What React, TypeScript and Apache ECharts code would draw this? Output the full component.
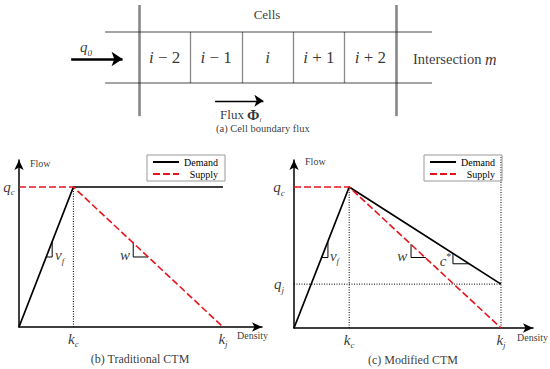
import React, { useEffect, useRef } from 'react';
import * as echarts from 'echarts';

// ---------- data ----------
const cellLabels = ['i − 2', 'i − 1', 'i', 'i + 1', 'i + 2'];
const KC = 40;    // critical density
const KJ = 150;   // jam density
const QC = 1800;  // capacity flow
const QJ = 560;   // flow at jam density (modified CTM)

const demandTraditional = [[0, 0], [KC, QC], [KJ, QC]];
const supplyTraditional = [[0, QC], [KC, QC], [KJ, 0]];
const demandModified = [[0, 0], [KC, QC], [KJ, QJ]];
const supplyModified = [[0, QC], [KC, QC], [KJ, 0]];

const vfTriangleB = [[20, 900], [24.4, 900], [24.4, 1100]];
const wTriangleB = [[84, 1080], [84, 900], [95, 900]];
const vfTriangleC = [[20.3, 900], [24.6, 900], [24.6, 1100]];
const wTriangleC = [[84.8, 1070], [84.8, 900], [95.6, 900]];
const cTriangleC = [[115.2, 952], [115.2, 820], [126.8, 820]];

const legendNames = ['Demand', 'Supply'];

// ---------- styles ----------
const SERIF = 'Liberation Serif';
const RED = '#e8141c';

const rich: any = {
  it: { fontFamily: SERIF, fontStyle: 'italic', fontSize: 15, lineHeight: 20, color: '#000' },
  sub: { fontFamily: SERIF, fontStyle: 'italic', fontSize: 9, lineHeight: 9, verticalAlign: 'bottom', color: '#000' },
  sup: { fontFamily: SERIF, fontSize: 10, lineHeight: 10, verticalAlign: 'top', color: '#000' },
  sm: { fontFamily: SERIF, fontSize: 10, color: '#000' },
  cap: { fontFamily: SERIF, fontSize: 12, color: '#000' },
  capA: { fontFamily: SERIF, fontSize: 10.5, color: '#000' },
  cellIt: { fontFamily: SERIF, fontStyle: 'italic', fontSize: 17, lineHeight: 20, color: '#000' },
  cellRm: { fontFamily: SERIF, fontSize: 17, lineHeight: 20, color: '#000' },
  mid: { fontFamily: SERIF, fontSize: 13, lineHeight: 18, color: '#000' },
  big: { fontFamily: SERIF, fontSize: 14.5, lineHeight: 18, color: '#000' },
  bigIt: { fontFamily: SERIF, fontStyle: 'italic', fontSize: 16, lineHeight: 18, color: '#000' },
  phi: { fontFamily: SERIF, fontSize: 15, fontWeight: 'bold', lineHeight: 16, color: '#000' },
  phiSub: { fontFamily: SERIF, fontStyle: 'italic', fontSize: 7, lineHeight: 7, verticalAlign: 'bottom', color: '#000' },
};

function lab(x: number, y: number, text: string, align: string = 'center') {
  return {
    value: [x, y],
    label: { show: true, position: 'inside', formatter: text, align, verticalAlign: 'middle', rich },
  };
}

function cellText(s: string) {
  const rest = s.slice(1);
  return rest ? `{cellIt|i}{cellRm|${rest}}` : '{cellIt|i}';
}

function textSeries(grid: number, data: any[]) {
  return {
    type: 'scatter',
    xAxisIndex: grid,
    yAxisIndex: grid,
    symbolSize: 0,
    clip: false,
    silent: true,
    itemStyle: { color: 'transparent' },
    data,
    z: 10,
  };
}

function lineSeries(grid: number, name: string, data: number[][], lineStyle: any, z = 3) {
  return {
    type: 'line',
    name,
    xAxisIndex: grid,
    yAxisIndex: grid,
    data,
    symbol: 'none',
    showSymbol: false,
    clip: false,
    silent: true,
    lineStyle,
    itemStyle: { color: lineStyle.color },
    z,
  };
}

const axisCommon = (grid: number, max: number) => ({
  type: 'value',
  gridIndex: grid,
  min: 0,
  max,
  axisLine: {
    show: true,
    onZero: false,
    symbol: ['none', 'arrow'],
    symbolSize: [7, 10],
    lineStyle: { color: '#000', width: 1.5 },
  },
  axisTick: { show: false },
  axisLabel: { show: false },
  splitLine: { show: false },
});

const hiddenAxis = (grid: number, max: number) => ({
  type: 'value', gridIndex: grid, min: 0, max, show: false,
});

function legendCfg(left: number) {
  return {
    data: legendNames,
    orient: 'vertical',
    left,
    top: 155,
    itemWidth: 26,
    itemHeight: 9,
    itemGap: 2,
    padding: [2, 7, 2, 5],
    borderColor: '#999',
    borderWidth: 1,
    selectedMode: false,
    itemStyle: { opacity: 0, borderWidth: 0 },
    formatter: (n: string) => `{t|${n}}`,
    textStyle: {
      fontFamily: SERIF,
      fontSize: 10,
      color: '#000',
      rich: { t: { fontFamily: SERIF, fontSize: 10, width: 34, align: 'right', color: '#000' } },
    },
  };
}

function buildOption() {
  const nCells = cellLabels.length;
  const dividers = cellLabels.slice(1).map((_, k) => ({
    coords: [[k + 1, 0], [k + 1, 1]],
    lineStyle: { width: 1.3, color: '#111' },
  }));
  const rails = [0, 1].map((y) => ({
    coords: [[-0.66, y], [nCells + 0.7, y]],
    lineStyle: { width: 1.6, color: '#111' },
  }));
  const outer = [0, nCells].map((x) => ({
    coords: [[x, -0.65], [x, 1.53]],
    lineStyle: { width: 2.6, color: '#111' },
  }));

  const solid = { color: '#000', width: 1.7, type: 'solid' };
  const dashed = { color: RED, width: 1.6, type: [7, 3] };
  const dotted = { color: '#000', width: 1, type: [1, 1.5] };
  const thin = { color: '#000', width: 1, type: 'solid' };

  return {
    animation: false,
    backgroundColor: '#fff',
    textStyle: { fontFamily: SERIF },
    grid: [
      { left: 139, top: 32, width: 257, height: 51 },
      { left: 19, top: 160, width: 243, height: 167 },
      { left: 294, top: 160, width: 239, height: 168 },
    ],
    xAxis: [hiddenAxis(0, nCells), axisCommon(1, 178.7), axisCommon(2, 173.2)],
    yAxis: [hiddenAxis(0, 1), axisCommon(1, 2147), axisCommon(2, 2145)],
    legend: [legendCfg(147), legendCfg(424)],
    series: [
      // ----- (a) cell diagram -----
      {
        type: 'lines',
        coordinateSystem: 'cartesian2d',
        xAxisIndex: 0,
        yAxisIndex: 0,
        polyline: false,
        silent: true,
        clip: false,
        data: [...rails, ...dividers, ...outer],
      },
      {
        type: 'lines',
        coordinateSystem: 'cartesian2d',
        xAxisIndex: 0,
        yAxisIndex: 0,
        silent: true,
        clip: false,
        symbol: ['none', 'arrow'],
        symbolSize: [9, 11],
        lineStyle: { width: 2.6, color: '#000', opacity: 1 },
        data: [{ coords: [[-1.32, 0.47], [-0.32, 0.47]] }],
      },
      {
        type: 'lines',
        coordinateSystem: 'cartesian2d',
        xAxisIndex: 0,
        yAxisIndex: 0,
        silent: true,
        clip: false,
        symbol: ['none', 'arrow'],
        symbolSize: [7, 9],
        lineStyle: { width: 1.3, color: '#000', opacity: 1 },
        data: [{ coords: [[1.48, -0.35], [2.42, -0.35]] }],
      },
      textSeries(0, [
        ...cellLabels.map((c, k) => lab(k + 0.5, 0.5, cellText(c))),
        lab(2.49, 1.35, '{mid|Cells}'),
        lab(-1.03, 0.7, '{it|q}{sub|0}'),
        lab(5.33, 0.47, '{big|Intersection }{bigIt|m}', 'left'),
        lab(1.98, -0.62, '{mid|Flux }{phi|Φ}{phiSub|i}'),
        lab(2.41, -0.9, '{capA|(a) Cell boundary flux}'),
      ]),

      // ----- (b) traditional CTM -----
      lineSeries(1, 'Demand', demandTraditional, solid, 5),
      lineSeries(1, 'Supply', supplyTraditional, dashed, 6),
      lineSeries(1, 'kc guide b', [[KC, 0], [KC, QC]], dotted),
      lineSeries(1, 'vf slope b', vfTriangleB, thin),
      lineSeries(1, 'w slope b', wTriangleB, thin),
      textSeries(1, [
        lab(-7.4, QC, '{it|q}{sub|c}'),
        lab(KC, -154, '{it|k}{sub|c}'),
        lab(KJ, -154, '{it|k}{sub|j}'),
        lab(8.1, 2108, '{sm|Flow}', 'left'),
        lab(160.3, -103, '{sm|Density}', 'left'),
        lab(26.5, 925, '{it|v}{sub|f}', 'left'),
        lab(81.6, 925, '{it|w}', 'right'),
        lab(89, -411, '{cap|(b) Traditional CTM}'),
      ]),

      // ----- (c) modified CTM -----
      lineSeries(2, 'Demand', demandModified, solid, 5),
      lineSeries(2, 'Supply', supplyModified, dashed, 6),
      lineSeries(2, 'kc guide c', [[KC, 0], [KC, QC]], dotted),
      lineSeries(2, 'kj guide c', [[KJ, 0], [KJ, 2200]], dotted),
      lineSeries(2, 'qj guide c', [[0, QJ], [KJ, QJ]], dotted),
      lineSeries(2, 'vf slope c', vfTriangleC, thin),
      lineSeries(2, 'w slope c', wTriangleC, thin),
      lineSeries(2, 'c slope c', cTriangleC, thin),
      textSeries(2, [
        lab(-10.9, QC, '{it|q}{sub|c}'),
        lab(-10.9, QJ, '{it|q}{sub|j}'),
        lab(KC, -153, '{it|k}{sub|c}'),
        lab(KJ, -153, '{it|k}{sub|j}'),
        lab(8, 2120, '{sm|Flow}', 'left'),
        lab(161.6, -115, '{sm|Density}', 'left'),
        lab(26, 920, '{it|v}{sub|f}', 'left'),
        lab(82, 920, '{it|w}', 'right'),
        lab(114, 850, '{it|c}{sup|*}', 'right'),
        lab(86.2, -409, '{cap|(c) Modified CTM}'),
      ]),
    ],
  };
}

export default function App() {
  const ref = useRef<HTMLDivElement>(null);
  useEffect(() => {
    document.body.style.margin = '0';
    const chart = echarts.init(ref.current!, null, { renderer: 'svg' });
    chart.setOption(buildOption() as any);
    return () => chart.dispose();
  }, []);
  return <div ref={ref} style={{ width: 550, height: 369, background: '#fff' }} />;
}
